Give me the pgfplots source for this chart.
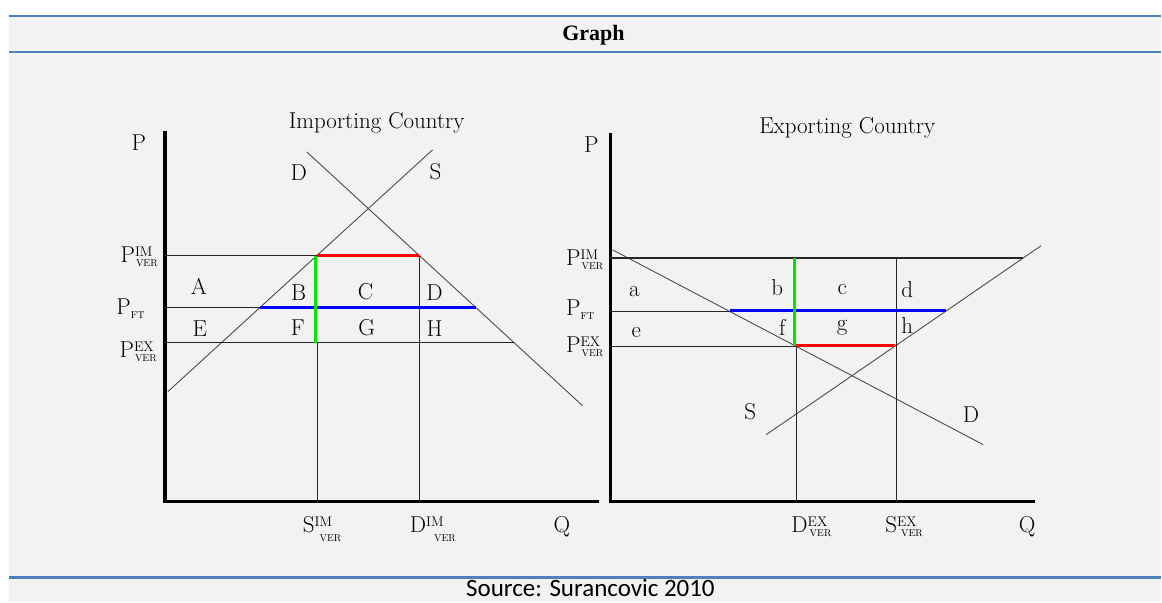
\documentclass[border=0pt]{standalone}
\usepackage{fontspec}
\usepackage{pgfplots}
\pgfplotsset{compat=1.18}
\newfontfamily\carlito{Carlito}
\newfontfamily\hdrfont{Liberation Serif}
\definecolor{bgray}{HTML}{F2F2F2}
\definecolor{rulec}{HTML}{4F81BD}
\definecolor{vred}{HTML}{FF0000}
\definecolor{vgreen}{HTML}{00E600}
\definecolor{vblue}{HTML}{0000FF}

% letter with a raised tag and VER below it
\newcommand{\tagged}[4]{#1\rlap{\raisebox{6.5pt}{\fontsize{14}{14}\selectfont #2}}\hspace*{#4}\raisebox{-#3}{\fontsize{10}{10}\selectfont VER}}

\pgfplotsset{
  panel/.style={scale only axis, hide axis, clip=false, enlargelimits=false,
    xmin=0, ymin=0},
  axisln/.style={black, line width=3.5pt, line join=miter, no marks},
  price/.style={black!85, line width=1.3pt, no marks},
  curve/.style={black!70, line width=0.9pt, no marks},
}
\tikzset{lbl/.style={font=\fontsize{23}{24}\selectfont, inner sep=0pt}}

\begin{document}
\begin{tikzpicture}[x=1pt,y=-1pt]
\fill[white] (0,0) rectangle (1162,603);
\fill[bgray] (9,16) rectangle (1162,603);
\draw[rulec, line width=2.2pt] (9,16) -- (1162,16);
\draw[rulec, line width=2.2pt] (9,52) -- (1162,52);
\draw[rulec, line width=2.2pt] (9,578) -- (1162,578);
\node[font=\hdrfont\bfseries\fontsize{22}{23}\selectfont, anchor=base] at (594,41) {Graph};
\node[font=\carlito\fontsize{25}{26}\selectfont, anchor=base] at (591,597) {Source: Surancovic 2010};

% ---- importing country
\begin{axis}[panel, at={(165pt,-502pt)}, anchor=south west,
  width=435pt, height=371pt, xmax=435, ymax=371]
  \addplot[axisln] coordinates {(0,371) (0,0) (435,0)};
  \addplot[curve] coordinates {(142,350) (418,96)};  % D
  \addplot[curve] coordinates {(3,110) (268,352)};   % S
  \addplot[price] coordinates {(0,246) (152.5,246)};
  \addplot[price] coordinates {(0,194) (95,194)};
  \addplot[price] coordinates {(0,159) (349,159)};
  \addplot[price] coordinates {(152.5,0) (152.5,159)};
  \addplot[price] coordinates {(255,0) (255,246)};
  \addplot[vred, line width=3pt, no marks] coordinates {(152.5,246.5) (254,246.5)};
  \addplot[vblue, line width=3pt, no marks] coordinates {(95,194.5) (311,194.5)};
  \addplot[vgreen, line width=3.5pt, no marks] coordinates {(151,159) (151,246)};

  \node[lbl] at (-26,359) {P};
  \node[lbl] at (212,379) {Importing Country};
  \node[lbl] at (134,329) {D};
  \node[lbl] at (271,330) {S};
  \node[lbl] at (34,215) {A};
  \node[lbl] at (134,209) {B};
  \node[lbl] at (201,210) {C};
  \node[lbl] at (270,209) {D};
  \node[lbl] at (35,173) {E};
  \node[lbl] at (133,174) {F};
  \node[lbl] at (202,174) {G};
  \node[lbl] at (270,173) {H};
  \node[lbl, anchor=base east] at (-7,239) {\tagged{P}{IM}{3.5pt}{1pt}};
  \node[lbl, anchor=base east] at (-20,187) {P\raisebox{-4pt}{\fontsize{10}{10}\selectfont FT}};
  \node[lbl, anchor=base east] at (-8,144) {\tagged{P}{EX}{3.5pt}{1pt}};
  \node[lbl, anchor=base west] at (138,-31) {\tagged{S}{IM}{9pt}{5pt}};
  \node[lbl, anchor=base west] at (245,-31) {\tagged{D}{IM}{9pt}{8pt}};
  \node[lbl, anchor=base] at (397.5,-31) {Q};
\end{axis}

% ---- exporting country
\begin{axis}[panel, at={(611pt,-502pt)}, anchor=south west,
  width=425pt, height=369pt, xmax=425, ymax=369]
  \addplot[axisln] coordinates {(0,369) (0,0) (425,0)};
  \addplot[curve] coordinates {(2,252) (373,57)};   % D
  \addplot[curve] coordinates {(156,67) (431,256)}; % S
  \addplot[price] coordinates {(0,243.7) (413,243.7)};
  \addplot[price] coordinates {(0,190.3) (119.4,190.3)};
  \addplot[price] coordinates {(0,155.3) (186,155.3)};
  \addplot[price] coordinates {(186,0) (186,155.3)};
  \addplot[price] coordinates {(286,0) (286,243.7)};
  \addplot[vred, line width=3pt, no marks] coordinates {(186,155.8) (285,155.8)};
  \addplot[vblue, line width=3pt, no marks] coordinates {(119.4,190.8) (335.5,190.8)};
  \addplot[vgreen, line width=3.5pt, no marks] coordinates {(184,155.3) (184,243.7)};

  \node[lbl] at (-19,357) {P};
  \node[lbl] at (237,374) {Exporting Country};
  \node[lbl] at (140,90) {S};
  \node[lbl] at (361,87) {D};
  \node[lbl] at (24,210) {a};
  \node[lbl] at (167,214) {b};
  \node[lbl] at (232,212) {c};
  \node[lbl] at (297,212) {d};
  \node[lbl] at (26,169) {e};
  \node[lbl] at (172,174) {f};
  \node[lbl] at (232,174) {g};
  \node[lbl] at (297,176) {h};
  \node[lbl, anchor=base east] at (-7,236) {\tagged{P}{IM}{3.5pt}{1pt}};
  \node[lbl, anchor=base east] at (-16,186) {P\raisebox{-4pt}{\fontsize{10}{10}\selectfont FT}};
  \node[lbl, anchor=base east] at (-7,149) {\tagged{P}{EX}{3.5pt}{1pt}};
  \node[lbl, anchor=base west] at (181,-31) {\tagged{D}{EX}{4pt}{2pt}};
  \node[lbl, anchor=base west] at (275,-31) {\tagged{S}{EX}{4pt}{4pt}};
  \node[lbl, anchor=base] at (417,-31) {Q};
\end{axis}
\end{tikzpicture}
\end{document}
